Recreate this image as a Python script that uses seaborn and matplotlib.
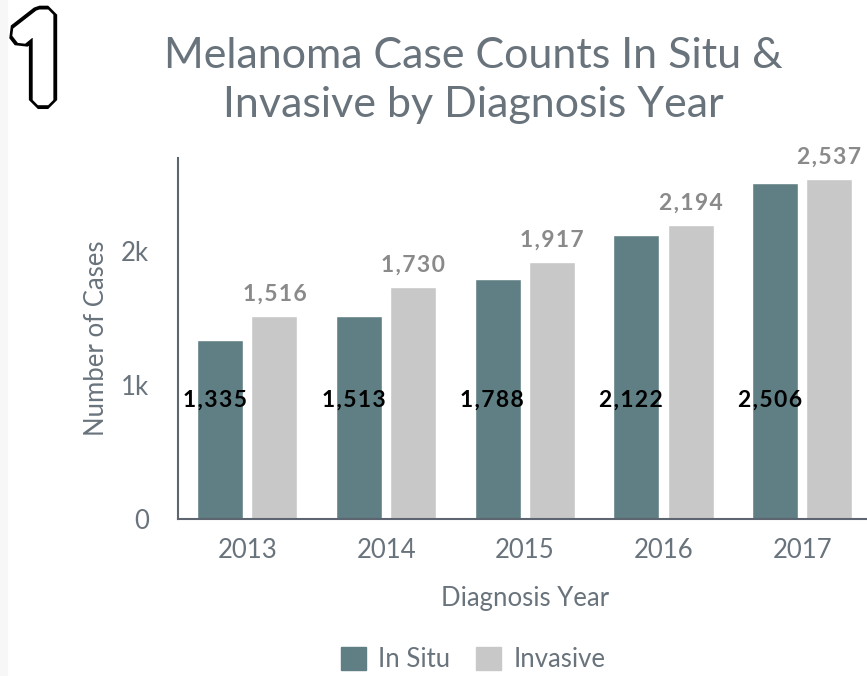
import pandas as pd
import matplotlib.pyplot as plt
import matplotlib.patheffects as pe
from matplotlib.patches import Rectangle
import seaborn as sns

# Chart data
years = ['2013', '2014', '2015', '2016', '2017']
in_situ = [1335, 1513, 1788, 2122, 2506]
invasive = [1516, 1730, 1917, 2194, 2537]

df = pd.DataFrame({
    'Year': years * 2,
    'Cases': in_situ + invasive,
    'Type': ['In Situ'] * len(years) + ['Invasive'] * len(years),
})

sns.set_theme(style="white")
plt.rcParams['font.family'] = ['Lato', 'DejaVu Sans']

text_grey = '#69737c'
palette = {'In Situ': '#5f7f84', 'Invasive': '#c8c8c8'}


def spaced(n):
    # little letter spacing like the original labels
    return '\u200a'.join(f'{n:,}')


fig = plt.figure(figsize=(8.67, 6.76), dpi=100)
fig.patches.append(Rectangle((0, 0), 7 / 867, 1, transform=fig.transFigure,
                             color='#f7f7f7', zorder=0))

ax = fig.add_axes([0.2053, 0.2322, 0.80, 0.534])
sns.barplot(data=df, x='Year', y='Cases', hue='Type', palette=palette,
            width=0.78, gap=0.15, saturation=1, legend=False, ax=ax)

ax.set_xlim(-0.5, 4.5)
ax.set_ylim(0, 2694)
ax.set_yticks([0, 1000, 2000])
ax.set_yticklabels(['0', '1k', '2k'])
ax.tick_params(axis='y', length=0, pad=21, labelsize=18.5, labelcolor=text_grey)
ax.tick_params(axis='x', length=0, pad=14, labelsize=18.5, labelcolor=text_grey)

for side in ['top', 'right']:
    ax.spines[side].set_visible(False)
for side in ['left', 'bottom']:
    ax.spines[side].set_color('#5d6670')
    ax.spines[side].set_linewidth(1.5)

ax.set_xlabel('Diagnosis Year', fontsize=18.5, color=text_grey, labelpad=16)
ax.set_ylabel('Number of Cases', fontsize=18.5, color=text_grey, labelpad=8)

# value labels
off = 0.195
for i, v in enumerate(in_situ):
    ax.text(i - off - 0.04, 890, spaced(v), ha='center', va='center',
            fontsize=16.5, fontweight='bold', color='black')
for i, v in enumerate(invasive):
    ax.text(i + off, v + 85, spaced(v), ha='center', va='bottom',
            fontsize=16.5, fontweight='bold', color='#8a8a8a')

fig.text(0.546, 0.881, 'Melanoma Case Counts In Situ &\nInvasive by Diagnosis Year',
         ha='center', va='center', fontsize=31, color=text_grey, linespacing=1.36)

# big outlined panel number (fattened glyph with a black outline)
num = fig.text(0.046, 1 - 100 / 676, '1', ha='center', va='baseline', fontsize=86,
               family=['Noto Sans', 'DejaVu Sans'], color='white')
num.set_path_effects([pe.Stroke(linewidth=13, foreground='black', joinstyle='bevel'),
                      pe.Stroke(linewidth=7.5, foreground='white', joinstyle='bevel'),
                      pe.Normal()])

handles = [Rectangle((0, 0), 1, 1, color=palette[k]) for k in ['In Situ', 'Invasive']]
fig.legend(handles, ['In Situ', 'Invasive'], loc='center', bbox_to_anchor=(0.546, 0.024),
           ncol=2, frameon=False, fontsize=18.5, labelcolor=text_grey,
           handlelength=0.97, handleheight=0.97, handletextpad=0.47, columnspacing=1.0,
           borderpad=0)

fig.savefig('out.png', dpi=100)
